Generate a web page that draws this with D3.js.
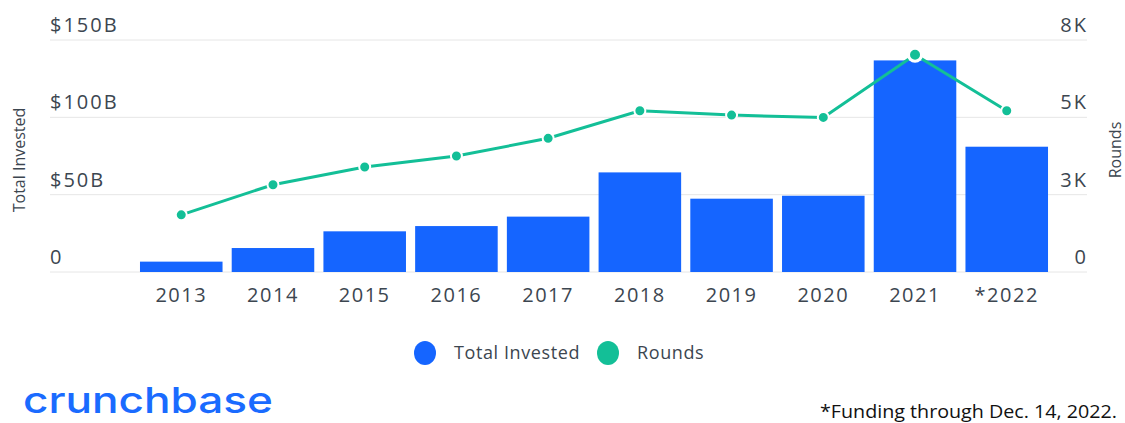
<!DOCTYPE html>
<html>
<head>
<meta charset="utf-8">
<style>
  body { margin: 0; background: #fff; font-family: "Open Sans", sans-serif; }
</style>
<script src="https://cdn.jsdelivr.net/npm/d3@7"></script>
</head>
<body>
<svg id="chart"></svg>
<script>
// ===== Data =====
var years = ['2013', '2014', '2015', '2016', '2017', '2018', '2019', '2020', '2021', '*2022'];
var invested = [6.7, 15.5, 26.3, 29.7, 35.8, 64.4, 47.4, 49.3, 136.8, 81.0];   // $B
var rounds = [1970, 3010, 3620, 4000, 4610, 5560, 5410, 5330, 7490, 5560];
var leftTicks = [0, 50, 100, 150];
var leftTickLabels = ['0', '$50B', '$100B', '$150B'];
var rightTickLabels = ['0', '3K', '5K', '8K'];

var BAR_COLOR = '#1565ff';
var LINE_COLOR = '#13bf97';
var TEXT_COLOR = '#3c4650';

var W = 1125, H = 423;
var svg = d3.select('#chart').attr('width', W).attr('height', H);

// Scales
var x = d3.scaleBand()
    .domain(years)
    .range([135.4, 1052.6])
    .paddingInner(0.1)
    .paddingOuter(0.05);
var y = d3.scaleLinear().domain([0, 150]).range([272, 40]);
var yR = d3.scaleLinear().domain([0, 8000]).range([272, 40]);

// Grid lines + tick labels
leftTicks.forEach(function(t, i) {
    svg.append('line')
        .attr('x1', 50).attr('x2', 1087)
        .attr('y1', y(t)).attr('y2', y(t))
        .attr('stroke', '#e6e6e6').attr('stroke-width', 1);
    svg.append('text')
        .attr('x', 50).attr('y', y(t) - 8)
        .attr('font-size', 20)
        .attr('letter-spacing', 2)
        .attr('fill', TEXT_COLOR)
        .text(leftTickLabels[i]);
    svg.append('text')
        .attr('x', 1088).attr('y', y(t) - 8)
        .attr('text-anchor', 'end')
        .attr('font-size', 20)
        .attr('letter-spacing', 2)
        .attr('fill', TEXT_COLOR)
        .text(rightTickLabels[i]);
});

// Axis titles
svg.append('text')
    .attr('transform', 'translate(25, 160) rotate(-90)')
    .attr('text-anchor', 'middle')
    .attr('font-size', 16)
    .attr('fill', TEXT_COLOR)
    .text('Total Invested');
svg.append('text')
    .attr('transform', 'translate(1121, 150) rotate(-90)')
    .attr('text-anchor', 'middle')
    .attr('font-size', 16)
    .attr('fill', TEXT_COLOR)
    .text('Rounds');

// Bars
svg.selectAll('rect.bar')
    .data(invested)
    .enter().append('rect')
        .attr('class', 'bar')
        .attr('x', (d, i) => x(years[i]))
        .attr('width', x.bandwidth())
        .attr('y', d => y(d))
        .attr('height', d => y(0) - y(d))
        .attr('fill', BAR_COLOR);

// X labels
svg.selectAll('text.xl')
    .data(years)
    .enter().append('text')
        .attr('class', 'xl')
        .attr('x', d => x(d) + x.bandwidth() / 2)
        .attr('y', 302)
        .attr('text-anchor', 'middle')
        .attr('font-size', 20)
        .attr('letter-spacing', 1.5)
        .attr('fill', TEXT_COLOR)
        .text(d => d);

// Rounds line
var line = d3.line()
    .x((d, i) => x(years[i]) + x.bandwidth() / 2)
    .y(d => yR(d));
svg.append('path')
    .datum(rounds)
    .attr('d', line)
    .attr('fill', 'none')
    .attr('stroke', LINE_COLOR)
    .attr('stroke-width', 3);
svg.selectAll('circle.pt')
    .data(rounds)
    .enter().append('circle')
        .attr('class', 'pt')
        .attr('cx', (d, i) => x(years[i]) + x.bandwidth() / 2)
        .attr('cy', d => yR(d))
        .attr('r', (d, i) => i === 8 ? 6.5 : 5.5)
        .attr('fill', LINE_COLOR)
        .attr('stroke', '#fff')
        .attr('stroke-width', (d, i) => i === 8 ? 3 : 2);

// Legend
var legend = [
    { label: 'Total Invested', color: BAR_COLOR, x: 425 },
    { label: 'Rounds', color: LINE_COLOR, x: 608 }
];
legend.forEach(function(l) {
    svg.append('ellipse')
        .attr('cx', l.x).attr('cy', 353)
        .attr('rx', 11).attr('ry', 12)
        .attr('fill', l.color);
    svg.append('text')
        .attr('x', l.x + 29).attr('y', 359)
        .attr('font-size', 18)
        .attr('letter-spacing', 0.6)
        .attr('fill', TEXT_COLOR)
        .text(l.label);
});

// Logo + footnote
svg.append('text')
    .attr('x', 23).attr('y', 413)
    .attr('font-family', 'Inter, sans-serif')
    .attr('font-weight', 500)
    .attr('font-size', 36)
    .attr('textLength', 250)
    .attr('lengthAdjust', 'spacingAndGlyphs')
    .attr('fill', '#1a6bff')
    .text('crunchbase');
svg.append('text')
    .attr('x', 1117).attr('y', 418)
    .attr('text-anchor', 'end')
    .attr('font-size', 18)
    .attr('textLength', 297)
    .attr('lengthAdjust', 'spacingAndGlyphs')
    .attr('fill', '#111')
    .text('*Funding through Dec. 14, 2022.');
</script>
</body>
</html>
